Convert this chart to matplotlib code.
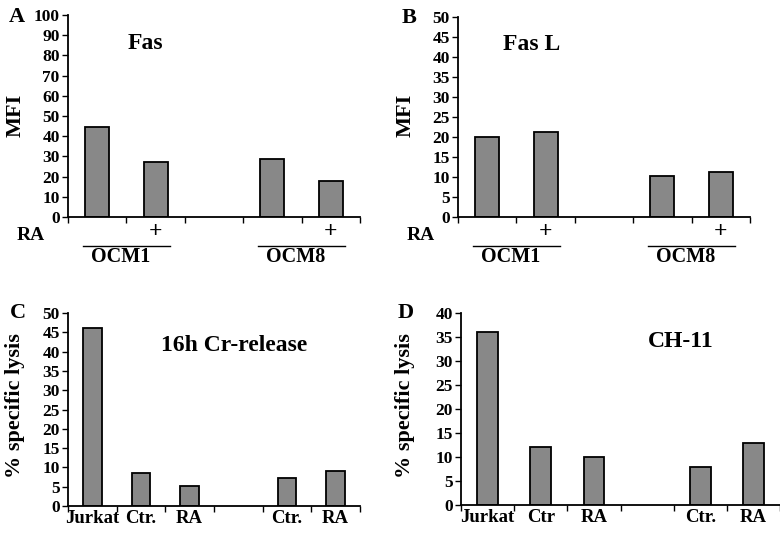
import numpy as np
import matplotlib
matplotlib.use("Agg")
import matplotlib.pyplot as plt
from matplotlib import transforms

plt.rcParams['font.family'] = ['Liberation Serif', 'DejaVu Serif']
plt.rcParams['font.weight'] = 'bold'

nan = np.nan
# ---- data ----
ab_categories = ["OCM1", "OCM1 + RA", "", "OCM8", "OCM8 + RA"]
ra_marks = ["", "+", "", "", "+"]
fas_mfi = [44.5, 27.0, nan, 28.5, 18.0]
fasl_mfi = [20.0, 21.3, nan, 10.3, 11.2]

c_labels = ["Jurkat", "Ctr.", "RA", "", "Ctr.", "RA"]
cr_release = [46.2, 8.5, 5.3, nan, 7.3, 9.1]
d_labels = ["Jurkat", "Ctr", "RA", "", "Ctr.", "RA"]
ch11_lysis = [36.0, 12.0, 10.0, nan, 8.0, 13.0]

groups = ["OCM1", "OCM8"]

W, H = 780, 534
fig = plt.figure(figsize=(W / 100, H / 100), dpi=100)


def px_axes(left, top, right, bottom):
    return fig.add_axes([left / W, 1 - bottom / H, (right - left) / W, (bottom - top) / H])


BAR_COLOR = "#888888"


def style(ax, n, ymax, ystep, labels, barw, values, title, tpos, letter, lpos, ylabel, ylpos, xfs):
    x = np.arange(n)
    ax.bar(x, values, width=barw, color=BAR_COLOR, edgecolor="black", linewidth=1.3)
    ax.set_xlim(-0.5, n - 0.5)
    ax.set_ylim(0, ymax)
    ax.set_yticks(np.arange(0, ymax + ystep / 2, ystep))
    for s in ["top", "right"]:
        ax.spines[s].set_visible(False)
    for s in ["left", "bottom"]:
        ax.spines[s].set_linewidth(1.3)
    ax.set_xticks(x)
    ax.set_xticklabels(labels, fontsize=xfs, fontweight="bold")
    ax.set_xticks(np.arange(-0.5, n, 1.0), minor=True)
    ax.tick_params(axis="x", which="major", length=0, pad=3)
    ax.tick_params(axis="x", which="minor", length=4, width=1.0, direction="out")
    ax.tick_params(axis="y", length=4, width=1.0, pad=2, labelsize=12.5)
    for t in ax.get_yticklabels():
        t.set_fontweight("bold")
    ax.text(tpos[0], tpos[1], title, transform=ax.transAxes, fontsize=17,
            fontweight="bold", ha="left", va="center")
    ax.text(lpos[0], lpos[1], letter, transform=ax.transAxes, fontsize=16,
            fontweight="bold", ha="center", va="center")
    ax.text(ylpos[0], ylpos[1], ylabel, transform=ax.transAxes, fontsize=16,
            fontweight="bold", ha="center", va="center", rotation=90)


def group_marks(ax, h_px):
    trans = transforms.blended_transform_factory(ax.transData, ax.transAxes)
    per_px = 1.0 / h_px
    ax.text(-0.079, -18.5 * per_px, "RA", transform=ax.transAxes, fontsize=14,
            fontweight="bold", ha="right", va="center")
    for i, g in enumerate(groups):
        c = 3 * i + 0.5
        ax.plot([c - 0.74, c + 0.74], [-29 * per_px] * 2, color="black", lw=1.0,
                transform=trans, clip_on=False)
        ax.text(c - 0.1, -40.5 * per_px, g, transform=trans, fontsize=14.5,
                fontweight="bold", ha="center", va="center")


axA = px_axes(68, 15, 360, 217)
style(axA, 5, 100, 10, ra_marks, 0.41, fas_mfi, "Fas", (0.205, 0.86), "A",
      (-0.175, 0.99), "MFI", (-0.18, 0.505), 17)
group_marks(axA, 202)

axB = px_axes(458, 17, 750, 217)
style(axB, 5, 50, 5, ra_marks, 0.41, fasl_mfi, "Fas L", (0.154, 0.86), "B",
      (-0.166, 0.995), "MFI", (-0.18, 0.51), 17)
group_marks(axB, 200)

axC = px_axes(68, 313, 360, 506)
style(axC, 6, 50, 5, c_labels, 0.39, cr_release, "16h Cr-release", (0.32, 0.83), "C",
      (-0.171, 1.0), "% specific lysis", (-0.18, 0.52), 13.5)

axD = px_axes(461, 313, 780, 505)
style(axD, 6, 40, 5, d_labels, 0.39, ch11_lysis, "CH-11", (0.586, 0.852), "D",
      (-0.172, 1.0), "% specific lysis", (-0.176, 0.52), 13.5)

fig.savefig("out.png", dpi=100)
